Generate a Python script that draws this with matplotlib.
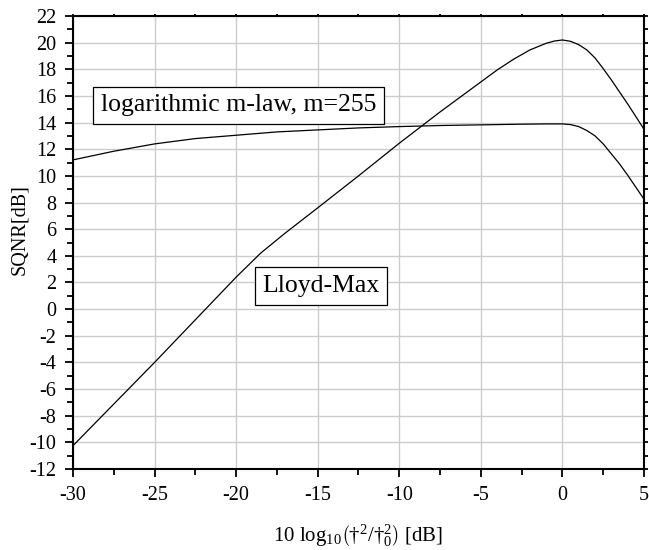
import numpy as np
import matplotlib
matplotlib.use('Agg')
from matplotlib import pyplot as plt
from matplotlib.ticker import MultipleLocator

plt.rcParams['font.family'] = ['Liberation Serif', 'DejaVu Serif']
plt.rcParams['mathtext.fontset'] = 'custom'
plt.rcParams['mathtext.rm'] = 'Liberation Serif'
plt.rcParams['mathtext.it'] = 'Liberation Serif'
plt.rcParams['axes.unicode_minus'] = False

# Lloyd-Max quantizer SQNR vs input level
x_lm = [-30, -25, -20, -18.5, -17, -15, -12.5, -10, -7.5, -5, -4, -3, -2, -1, -0.5, 0,
        0.5, 1, 1.5, 2, 2.5, 3, 3.5, 4, 4.5, 5]
y_lm = [-10.25, -4.0, 2.4, 4.2, 5.7, 7.6, 10.0, 12.45, 14.8, 17.05, 17.95, 18.75, 19.45, 19.95, 20.12, 20.2,
        20.1, 19.85, 19.45, 18.85, 18.05, 17.2, 16.3, 15.4, 14.45, 13.5]

# logarithmic mu-law, mu=255
x_mu = [-30, -27.5, -25, -22.5, -20, -17.5, -15, -12.5, -10, -7.5, -5, -2.5, -1, 0,
        0.5, 1, 1.5, 2, 2.5, 3, 3.5, 4, 4.5, 5]
y_mu = [11.2, 11.85, 12.4, 12.8, 13.05, 13.3, 13.45, 13.6, 13.7, 13.78, 13.83, 13.88, 13.9, 13.9,
        13.85, 13.7, 13.4, 13.0, 12.4, 11.65, 10.9, 10.05, 9.15, 8.25]

fig = plt.figure(figsize=(6.49, 5.5), dpi=100)
ax = fig.add_axes([73/649, 1-469/550, (644-73)/649, (469-16)/550])

ax.plot(x_lm, y_lm, color='black', lw=0.9)
ax.plot(x_mu, y_mu, color='black', lw=0.9)

ax.set_xlim(-30, 5)
ax.set_ylim(-12, 22)
ax.xaxis.set_major_locator(MultipleLocator(5))
ax.xaxis.set_minor_locator(MultipleLocator(2.5))
ax.yaxis.set_major_locator(MultipleLocator(2))
ax.yaxis.set_minor_locator(MultipleLocator(1))
ax.grid(True, which='major', color='#cccccc', lw=1.0)
ax.set_axisbelow(True)

for s in ax.spines.values():
    s.set_linewidth(1.5)

ax.tick_params(which='both', direction='out', width=1.3, labelsize=14.5,
               top=True, right=True)
ax.tick_params(which='major', length=6)
ax.tick_params(which='minor', length=4)
ax.tick_params(axis='x', which='major', pad=6)
ax.tick_params(axis='y', which='major', pad=6)
ax.tick_params(axis='both', which='both', labeltop=False, labelright=False)
# short marks on top and right
for t in ax.xaxis.get_major_ticks() + ax.xaxis.get_minor_ticks():
    t.tick2line.set_markersize(1.5)
for t in ax.yaxis.get_major_ticks() + ax.yaxis.get_minor_ticks():
    t.tick2line.set_markersize(3)

box = dict(boxstyle='square,pad=0.3', facecolor='white', edgecolor='black', lw=0.9)
ax.text(-19.85, 15.3, 'logarithmic m-law, m=255', fontsize=18.5, ha='center', va='center', bbox=box)
ax.text(-14.8, 1.73, 'Lloyd-Max', fontsize=18.5, ha='center', va='center', bbox=box)

fig.text(20/649, 1-230/550, 'SQNR[dB]', rotation=90, fontsize=14.5, ha='center', va='center')
fig.text(358/649, 1-536/550, r'10 log$_{10}$$\left(\mathrm{†}^2/\mathrm{†}_0^2\right)$ [dB]',
         fontsize=15, ha='center', va='center')

fig.savefig('out.png', dpi=100)
